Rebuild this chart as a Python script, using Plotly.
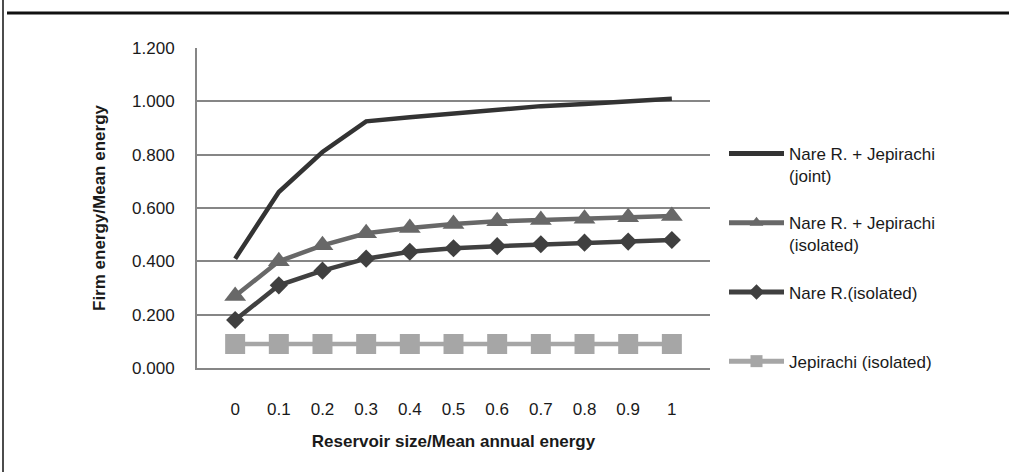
import plotly.graph_objects as go

# reservoir size / mean annual energy (category axis)
x_labels = ["0", "0.1", "0.2", "0.3", "0.4", "0.5", "0.6", "0.7", "0.8", "0.9", "1"]

joint = [0.41, 0.66, 0.81, 0.925, 0.94, 0.955, 0.97, 0.982, 0.99, 1.0, 1.01]
sum_isolated = [0.27, 0.40, 0.46, 0.505, 0.525, 0.54, 0.55, 0.555, 0.56, 0.565, 0.57]
nare_isolated = [0.18, 0.31, 0.365, 0.41, 0.436, 0.449, 0.457, 0.464, 0.47, 0.474, 0.48]
jepirachi_isolated = [0.09, 0.09, 0.09, 0.09, 0.09, 0.09, 0.09, 0.09, 0.09, 0.09, 0.09]

y_ticks = [0.0, 0.2, 0.4, 0.6, 0.8, 1.0, 1.2]

FONT = "Liberation Sans, Arial, sans-serif"

W, H = 1009, 472
L, R, T, B = 197, 299, 48, 104


def px_x(px):
    return (px - L) / (W - L - R)


def px_y(py):
    return (H - B - py) / (H - T - B)


fig = go.Figure()

# name, values, colour, marker symbol, marker size
series = [
    ("Nare R. + Jepirachi<br>(joint)", joint, "#333333", None, 0),
    ("Nare R. + Jepirachi<br>(isolated)", sum_isolated, "#686868", "triangle-up", 19),
    ("Nare R.(isolated)<br> ", nare_isolated, "#404040", "diamond", 14),
    ("Jepirachi (isolated)", jepirachi_isolated, "#a6a6a6", "square", 20),
]

for i, (name, vals, color, symbol, msize) in enumerate(series):
    fig.add_trace(
        go.Scatter(
            x=x_labels,
            y=vals,
            name=name,
            legendgroup=f"g{i}",
            mode="lines+markers" if symbol else "lines",
            line=dict(color=color, width=4.5),
            marker=dict(symbol=symbol or "circle", size=msize or 1, color=color, line=dict(width=0)),
        )
    )

fig.update_layout(
    width=W,
    height=H,
    margin=dict(l=L, r=R, t=T, b=B),
    plot_bgcolor="white",
    paper_bgcolor="white",
    font=dict(family=FONT, size=17, color="#1a1a1a"),
    xaxis=dict(
        type="category",
        showgrid=False,
        showline=True,
        linecolor="#868686",
        linewidth=2,
        ticks="",
        ticklabelstandoff=25,
        title=dict(
            text="<b>Reservoir size/Mean annual energy</b>",
            font=dict(family=FONT, size=17),
            standoff=17,
        ),
    ),
    yaxis=dict(
        range=[0, 1.2],
        tickvals=y_ticks,
        tickformat=".3f",
        showgrid=True,
        gridcolor="#868686",
        gridwidth=1.5,
        showline=True,
        linecolor="#868686",
        linewidth=2,
        zeroline=False,
        ticks="",
        ticklabelstandoff=17,
        title=dict(
            text="<b>Firm energy/Mean energy</b>",
            font=dict(family=FONT, size=17),
            standoff=22,
        ),
    ),
    legend=dict(
        x=px_x(724),
        y=px_y(136),
        xanchor="left",
        yanchor="top",
        valign="top",
        tracegroupgap=22,
        itemwidth=55,
        itemsizing="constant",
        font=dict(family=FONT, size=17),
        bgcolor="rgba(0,0,0,0)",
    ),
    shapes=[
        dict(type="line", xref="paper", yref="paper",
             x0=px_x(3), x1=px_x(3), y0=px_y(0), y1=px_y(H),
             line=dict(color="#111111", width=1.5)),
        dict(type="line", xref="paper", yref="paper",
             x0=px_x(7), x1=px_x(W), y0=px_y(13), y1=px_y(13),
             line=dict(color="#111111", width=3)),
    ],
)

# drop the default page margin so the figure sits at the window's top-left
fig.write_html(
    "out.html",
    config={"displayModeBar": False},
    post_script="document.body.style.margin='0';",
)
